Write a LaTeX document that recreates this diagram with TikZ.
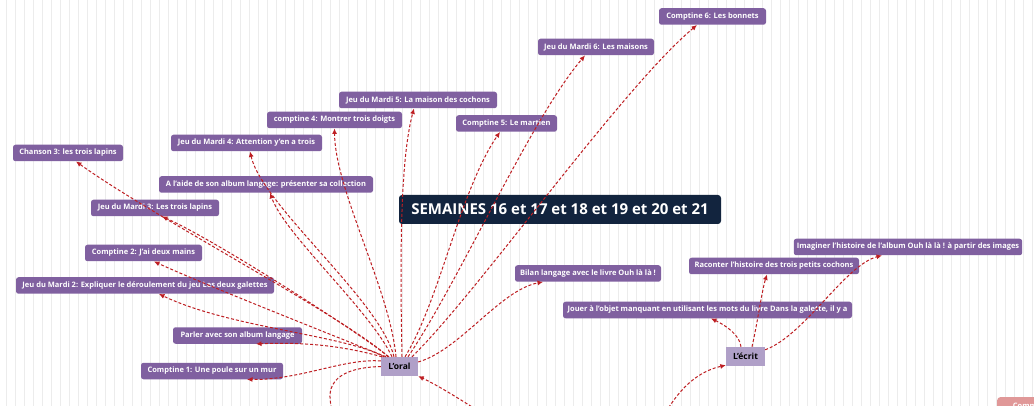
\documentclass[tikz,border=0pt]{standalone}
\usepackage{fontspec}
\setmainfont{Open Sans}
\usetikzlibrary{arrows.meta,calc}
\definecolor{leafpurple}{RGB}{128,96,160}
\definecolor{hubpurple}{RGB}{176,160,200}
\definecolor{titlenavy}{RGB}{18,36,62}
\definecolor{linkred}{RGB}{190,30,34}
\definecolor{gridgray}{RGB}{236,236,236}
\definecolor{notepink}{RGB}{224,152,152}
\tikzset{
  leaf/.style={fill=leafpurple, rounded corners=2.5pt, text=white,
    font=\bfseries\fontsize{7.5}{9}\selectfont, minimum height=16.5pt,
    inner xsep=3pt, inner ysep=0pt},
  hub/.style={fill=hubpurple, text=black,
    font=\bfseries\fontsize{8.5}{10}\selectfont, minimum height=19pt, inner sep=0pt},
  titlebox/.style={fill=titlenavy, rounded corners=3pt, text=white,
    font=\bfseries\fontsize{15}{18}\selectfont, minimum height=29pt, inner sep=0pt},
  notebox/.style={fill=notepink, rounded corners=3pt, text=white,
    font=\bfseries\fontsize{7.5}{9}\selectfont, minimum height=16.5pt,
    inner xsep=3pt, inner ysep=0pt, anchor=north west, minimum width=60pt, align=left},
  conn/.style={draw=linkred, line width=1pt, dash pattern=on 3pt off 2pt,
    -{Latex[length=5.5pt,width=5pt]}},
  link/.style={draw=linkred, line width=1pt, dash pattern=on 3pt off 2pt}
}
\begin{document}
\begin{tikzpicture}[x=1pt,y=-1pt]
\clip (0,0) rectangle (1034,406);
\fill[white] (0,0) rectangle (1034,406);
\foreach \i in {0,...,114} \draw[gridgray, line width=0.8pt] (6.7+9*\i,0) -- (6.7+9*\i,406);

% nodes
\node[titlebox, minimum width=322pt] (title) at (560,209.5) {SEMAINES 16 et 17 et 18 et 19 et 20 et 21};
\node[leaf, minimum width=107pt] (c6) at (712.5,16.5) {Comptine 6: Les bonnets};
\node[leaf, minimum width=116pt] (m6) at (596,47) {Jeu du Mardi 6: Les maisons};
\node[leaf, minimum width=158pt] (m5) at (418,100) {Jeu du Mardi 5: La maison des cochons};
\node[leaf, minimum width=135pt] (c4) at (334.5,120) {comptine 4: Montrer trois doigts};
\node[leaf, minimum width=101pt] (c5) at (506.5,123.5) {Comptine 5: Le martien};
\node[leaf, minimum width=151pt] (m4) at (246.5,143) {Jeu du Mardi 4: Attention y'en a trois};
\node[leaf, minimum width=110pt] (ch3) at (68,153) {Chanson 3: les trois lapins};
\node[leaf, minimum width=214pt] (aide) at (266,184.5) {A l'aide de son album langage: présenter sa collection};
\node[leaf, minimum width=128pt] (m3) at (155,208) {Jeu du Mardi 3: Les trois lapins};
\node[leaf, minimum width=117pt] (c2) at (143.5,253) {Comptine 2: J'ai deux mains};
\node[leaf, minimum width=258pt] (m2) at (145,285.5) {Jeu du Mardi 2: Expliquer le déroulement du jeu Les deux galettes};
\node[leaf, minimum width=129pt] (parler) at (237.5,335.5) {Parler avec son album langage};
\node[leaf, minimum width=142pt] (c1) at (212,371) {Comptine 1: Une poule sur un mur};
\node[hub, minimum width=37pt] (oral) at (399.5,366.5) {L'oral};
\node[leaf, minimum width=146pt] (bilan) at (588,273.5) {Bilan langage avec le livre Ouh là là !};
\node[leaf, minimum width=228pt] (imag) at (908,247) {Imaginer l'histoire de l'album Ouh là là ! à partir des images};
\node[leaf, minimum width=170pt] (racon) at (774,266) {Raconter l'histoire des trois petits cochons};
\node[leaf, minimum width=289pt] (jouer) at (707.5,310) {Jouer à l'objet manquant en utilisant les mots du livre Dans la galette, il y a};
\node[hub, minimum width=39pt] (ecrit) at (745.5,356.5) {L'écrit};
\node[notebox] (note) at (997,397) {Comme};

% off-picture ends
\coordinate (oralin) at (480,412);
\coordinate (oralloop) at (333,412);
\coordinate (ecritin) at (666,412);

% connectors from L'oral
\draw[conn] ([xshift=-11.5pt]oral.north) .. controls (350,320) and (150,215) .. ([xshift=8pt]ch3.south);
\draw[conn] ([xshift=-10.5pt]oral.north) .. controls (355,330) and (215,240) .. ([xshift=7pt]m3.south);
\draw[conn] ([xshift=-13.5pt]oral.north) .. controls (345,340) and (205,285) .. ([xshift=10.5pt]c2.south);
\draw[conn] ([xshift=-15.5pt]oral.north) .. controls (345,335) and (230,328) .. ([xshift=14pt]m2.south);
\draw[conn] ([xshift=-17.5pt]oral.north) .. controls (340,345) and (300,342) .. ([xshift=18.5pt]parler.south);
\draw[conn] ([yshift=5.5pt]oral.west) .. controls (345,358) and (300,380) .. ([xshift=35pt]c1.south);
\draw[conn] ([xshift=-7.5pt]oral.north) .. controls (370,310) and (285,235) .. ([xshift=4pt]aide.south);
\draw[conn] ([xshift=-5.5pt]oral.north) .. controls (380,300) and (262,205) .. ([xshift=3.5pt]m4.south);
\draw[conn] ([xshift=-3.5pt]oral.north) .. controls (390,290) and (335,190) .. (c4.south);
\draw[conn] ([xshift=2.5pt]oral.north) .. controls (400,260) and (400,160) .. ([xshift=-4pt]m5.south);
\draw[conn] ([xshift=5.5pt]oral.north) .. controls (440,300) and (460,190) .. ([xshift=-6.5pt]c5.south);
\draw[conn] ([xshift=8.5pt]oral.north) .. controls (460,280) and (530,120) .. ([xshift=-11pt]m6.south);
\draw[conn] ([xshift=12.5pt]oral.north) .. controls (480,290) and (620,90) .. ([xshift=-15.5pt]c6.south);
\draw[conn] ([yshift=4.5pt]oral.east) .. controls (460,350) and (500,290) .. ([xshift=-45pt]bilan.south);
\draw[link] (oral.west) .. controls (330,368) and (325,390) .. (oralloop);
\draw[conn] (oralin) .. controls (455,396) and (435,384) .. (oral.south east);

% connectors from L'ecrit
\draw[conn] ([xshift=-4.5pt]ecrit.north) .. controls (740,335) and (725,325) .. ([xshift=3.5pt]jouer.south);
\draw[conn] ([xshift=6.5pt]ecrit.north) .. controls (758,320) and (762,290) .. ([xshift=-7pt]racon.south);
\draw[conn] ([yshift=-3pt]ecrit.north east) .. controls (805,335) and (845,265) .. ([xshift=-26pt]imag.south);
\draw[conn] (ecritin) .. controls (685,380) and (705,370) .. ([yshift=1pt]ecrit.south west);
\end{tikzpicture}
\end{document}
